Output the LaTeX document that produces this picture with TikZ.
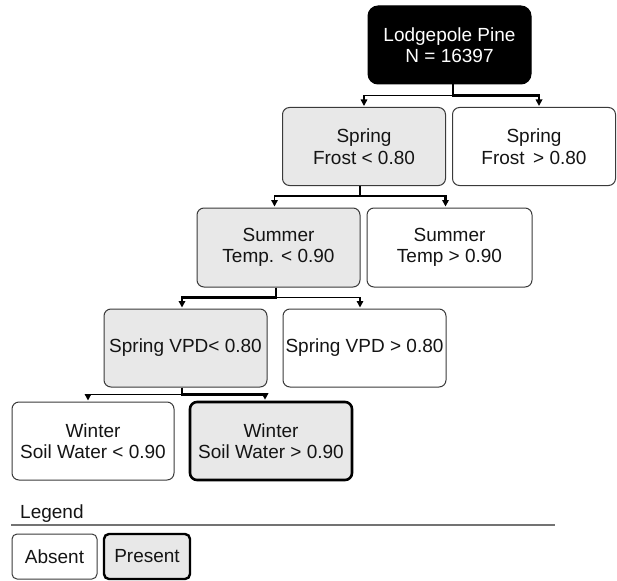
\documentclass[tikz,border=0pt]{standalone}
\usepackage{fontspec}
\setmainfont{Liberation Sans}
\usetikzlibrary{arrows.meta, calc, positioning}
\definecolor{presgray}{HTML}{E8E8E8}
\definecolor{edgegray}{HTML}{3A3A3A}
\tikzset{
  box/.style     ={draw=edgegray, rounded corners=7pt, minimum width=163pt, minimum height=78pt, inner sep=0pt, align=center, line width=1pt, text=black!92, font=\fontsize{19}{21.5}\selectfont},
  rootbox/.style ={box, draw=black, fill=black, text=white, rounded corners=10pt},
  presbox/.style ={box, fill=presgray},
  bestbox/.style ={box, fill=presgray, draw=black, line width=2.6pt},
  br/.style      ={-{Triangle[width=6.5pt,length=6.5pt]}, line width=1.4pt, black},   % branch not taken
  mainbr/.style  ={-{Triangle[width=6.5pt,length=6.5pt]}, line width=2.8pt, black},   % branch kept
  lgd/.style     ={draw=edgegray, rounded corners=5pt, minimum height=45pt, inner sep=0pt, line width=1pt, text=black!92, font=\fontsize{19}{21.5}\selectfont},
}

\begin{document}
\begin{tikzpicture}[x=1pt, y=-1pt]
  \useasboundingbox (0,0) rectangle (617,580);
  \node[rootbox] (root) at (449.5,45)  {Lodgepole Pine\\N = 16397};
  \node[presbox] (sfLo) at (364,146.5) {Spring\\Frost < 0.80};
  \node[box]     (sfHi) at (534,146.5) {Spring\\Frost \,> 0.80};
  \node[presbox, minimum height=79pt] (stLo) at (278.5,247.5) {Summer\\Temp. < 0.90};
  \node[box, minimum height=79pt, minimum width=165pt] (stHi) at (449.5,247.5) {Summer\\Temp > 0.90};
  \node[presbox] (svLo) at (185.5,348) {Spring VPD< 0.80};
  \node[box]     (svHi) at (364.5,348) {Spring VPD > 0.80};
  \node[box, minimum width=162pt] (swLo) at (93,441)  {Winter\\Soil Water < 0.90};
  \node[bestbox, minimum width=162pt] (swHi) at (271,441) {Winter\\Soil Water > 0.90};
  % splits
  \draw[br]     ($(root.south)+(3.5,0)$) -- ++(0,11) -| ($(sfLo.north)+(0,-1)$);
  \draw[mainbr] ($(root.south)+(3.5,0)$) -- ++(0,11) -| ($(sfHi.north)+(5,-1)$);
  \draw[br]     ($(sfLo.south)+(-4,0)$) -- ++(0,10) -| ($(stLo.north)+(-4,-1)$);
  \draw[mainbr] ($(sfLo.south)+(-4,0)$) -- ++(0,10) -| ($(stHi.north)+(-4,-1)$);
  \draw[mainbr] ($(stLo.south)+(-2.5,0)$) -- ++(0,10) -| ($(svLo.north)+(-3.5,-1)$);
  \draw[br]     ($(stLo.south)+(-2.5,0)$) -- ++(0,10) -| ($(svHi.north)+(-4.5,-1)$);
  \draw[br]     ($(svLo.south)+(-3.5,0)$) -- ++(0,7) -| ($(swLo.north)+(-5,-1)$);
  \draw[mainbr] ($(svLo.south)+(-3.5,0)$) -- ++(0,7) -| ($(swHi.north)+(-6,-1)$);
  % legend
  \node[font=\fontsize{19}{21.5}\selectfont, anchor=base west, inner sep=0pt, text=black!92] (lgdtitle) at (20,518) {Legend};
  \coordinate (ruleL) at (11,525);
  \coordinate (ruleR) at (555,525);
  \draw[black!55, line width=1.6pt] (ruleL) -- (ruleR);
  \node[lgd, minimum width=85pt] (absent) at (54.5,556.5) {Absent};
  \node[lgd, minimum width=86pt, fill=presgray, draw=black, line width=2.4pt] (present) at (147,556.5) {Present};
\end{tikzpicture}
\end{document}
